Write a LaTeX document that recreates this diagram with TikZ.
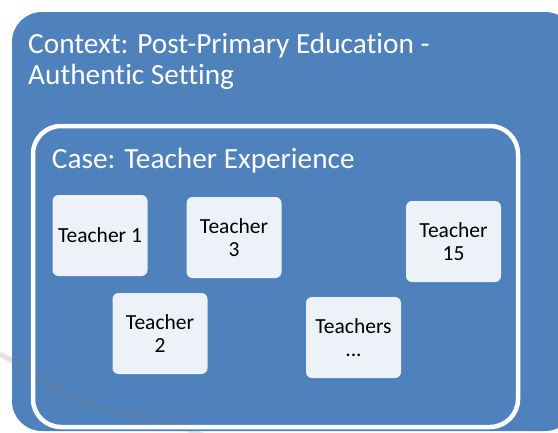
\documentclass[tikz,border=0pt]{standalone}
\usepackage{fontspec}
\setmainfont{Carlito}[Ligatures=NoCommon]
\definecolor{outerblue}{HTML}{4F81BD}
\definecolor{boxfill}{HTML}{EDF1F8}
\tikzset{
  teacherbox/.style={fill=boxfill, rounded corners=6pt, minimum width=95pt, minimum height=81pt,
    inner sep=0pt, align=center, text=black, font=\fontsize{21.5}{22.5}\selectfont},
  headtext/.style={text=white, inner sep=0pt, anchor=base west, align=left,
    font=\fontsize{29.3}{30.7}\selectfont}
}
\begin{document}
\begin{tikzpicture}[x=1pt,y=-1pt]
\useasboundingbox (0,0) rectangle (558,432);
\begin{scope}
\clip (0,0) rectangle (558,432);
\fill[outerblue, rounded corners=30pt] (12,12) rectangle (575,431);
\draw[gray, opacity=0.22, line width=5pt] (0,354) .. controls (45,378) and (70,405) .. (110,411) .. controls (140,415) and (170,422) .. (205,436);
\draw[white, line width=4.5pt, rounded corners=28pt] (33,126) rectangle (518,427);
\end{scope}
\node[headtext] (ctx) at (28,53.3) {Context: Post-Primary Education -};
\node[headtext] (ctx2) at (28,84) {Authentic Setting};
\node[headtext] (case) at (51.7,168.3) {Case: Teacher Experience};
\node[teacherbox] (t1) at (100,235.5) {Teacher 1};
\node[teacherbox] (t3) at (234,237.5) {Teacher\\3};
\node[teacherbox] (t15) at (453.5,241.5) {Teacher\\15};
\node[teacherbox] (t2) at (160,333.5) {Teacher\\2};
\node[teacherbox] (tdots) at (353.5,337.5) {Teachers\\...};
\end{tikzpicture}
\end{document}
